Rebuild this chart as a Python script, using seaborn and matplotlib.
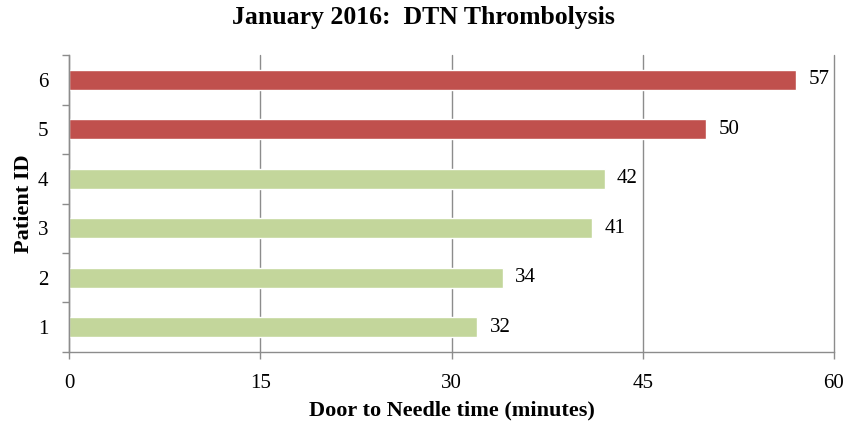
import matplotlib.pyplot as plt
import numpy as np
import pandas as pd
import seaborn as sns

# 数据
patient_ids = ['6', '5', '4', '3', '2', '1']
dtn_minutes = [57, 50, 42, 41, 34, 32]
over_target = [True, True, False, False, False, False]

green = '#C3D69B'
red = '#C0504D'
grey = '#8C8C8C'

df = pd.DataFrame({'patient': patient_ids, 'dtn': dtn_minutes,
                   'group': ['over' if o else 'ok' for o in over_target]})

sns.set_style('white')
plt.rcParams['font.family'] = ['Liberation Serif', 'DejaVu Serif']
plt.rcParams['text.color'] = 'black'
plt.rcParams['xtick.color'] = 'black'
plt.rcParams['ytick.color'] = 'black'
plt.rcParams['axes.labelcolor'] = 'black'

fig = plt.figure(figsize=(8.46, 4.21), dpi=100)
ax = fig.add_axes([0.0816, 0.164, 0.9042, 0.705])

sns.barplot(data=df, x='dtn', y='patient', hue='group', order=patient_ids,
            palette={'over': red, 'ok': green}, orient='h', width=0.4,
            saturation=1, dodge=False, legend=False, ax=ax)

# 数值标签
for cont in ax.containers:
    ax.bar_label(cont, padding=9, fontsize=15, color='black')

ax.set_xlim(0, 60)
ax.set_xticks([0, 15, 30, 45, 60])
ax.set_ylim(5.5, -0.5)
ax.set_yticks(np.arange(-0.5, 6, 1), minor=True)
ax.tick_params(axis='y', which='major', length=0, pad=15, labelsize=15)
ax.tick_params(axis='y', which='minor', left=True, length=5, color=grey, width=1)
ax.tick_params(axis='x', bottom=True, length=5, color=grey, width=1, labelsize=15,
               pad=11, labelcolor='black')

ax.grid(axis='x', color=grey, linewidth=1)
for gl in ax.get_xgridlines():
    gl.set_clip_on(False)
ax.set_axisbelow(True)
for s in ['top', 'right']:
    ax.spines[s].set_visible(False)
for s in ['left', 'bottom']:
    ax.spines[s].set_color(grey)
    ax.spines[s].set_linewidth(1)

ax.set_xlabel('Door to Needle time (minutes)', fontsize=16, fontweight='bold', labelpad=5)
ax.set_ylabel('Patient ID', fontsize=16, fontweight='bold', labelpad=3)
fig.suptitle('January 2016:  DTN Thrombolysis', fontsize=18.5, fontweight='bold',
             x=0.5, y=0.985, va='top')

fig.savefig('out.png', dpi=100)
